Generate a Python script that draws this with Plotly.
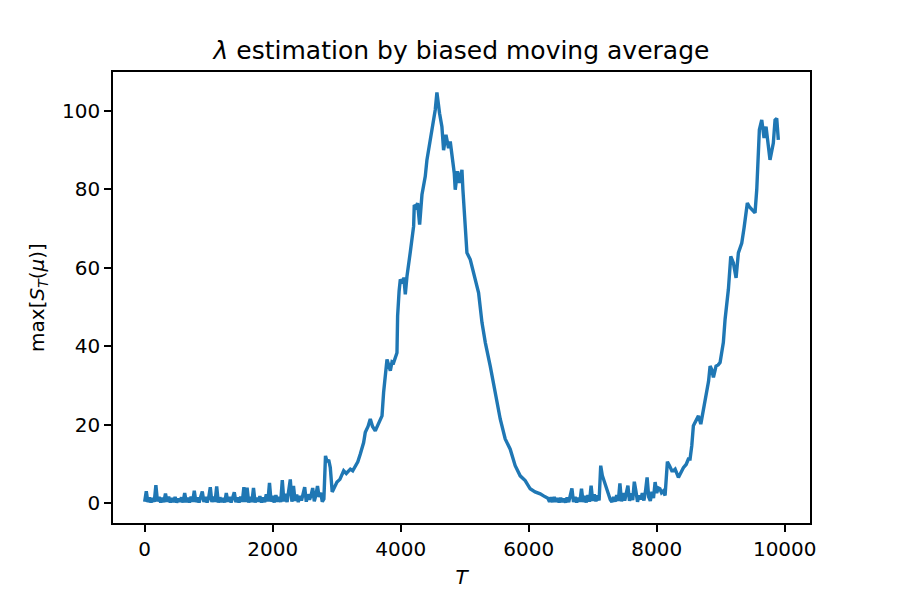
import plotly.graph_objects as go

# ---- data ----
# noisy start (T = 0 .. 2800, every 25)
noise1_T = list(range(0, 2825, 25))
noise1_S = [
    0.3, 3.0, 0.2, 1.4, 0.1, 1.2, 0.3, 4.5,
    0.4, 1.5, 0.1, 1.3, 0.2, 2.4, 0.3, 1.6,
    0.1, 1.2, 0.2, 1.5, 0.1, 1.1, 0.3, 1.4,
    0.1, 2.5, 0.2, 1.3, 0.1, 1.6, 0.3, 3.1,
    0.2, 1.4, 0.1, 1.2, 2.9, 0.2, 1.5, 0.1,
    1.3, 4.0, 0.2, 1.6, 0.3, 4.2, 0.1, 1.4,
    0.2, 1.2, 0.1, 2.5, 0.3, 1.5, 0.1, 1.3,
    2.7, 0.2, 1.4, 0.1, 1.6, 0.3, 4.0, 0.2,
    3.9, 0.1, 1.5, 0.2, 3.8, 0.1, 1.3, 0.3,
    1.7, 0.1, 1.4, 0.2, 2.2, 0.4, 5.1, 0.3,
    1.8, 0.1, 2.0, 0.3, 1.5, 0.2, 5.8, 0.4,
    2.3, 0.2, 3.4, 6.0, 0.3, 4.3, 0.5, 2.1,
    0.2, 1.8, 0.6, 2.4, 4.0, 0.3, 2.2, 0.8,
    1.9, 3.8, 0.4, 2.0, 4.3, 1.5, 2.6, 0.3,
    1.0,
]

# first rise, peak and decline
rise_T = [2825, 2850, 2875, 2900, 2930, 2960, 3005, 3050, 3109, 3150,
          3213, 3250, 3291, 3330, 3369, 3421, 3447, 3490, 3525, 3560,
          3603, 3655, 3708, 3733, 3760, 3786, 3815, 3838, 3865, 3890,
          3942, 3952, 3975, 3994, 4030, 4050, 4072, 4098, 4150, 4202,
          4212, 4240, 4264, 4296, 4332, 4384, 4410, 4462, 4503, 4540,
          4566, 4590, 4607, 4644, 4670, 4707, 4748, 4774, 4800, 4837,
          4852, 4888, 4920, 4957, 4972, 5009, 5035, 5087, 5139, 5217,
          5270, 5322, 5399, 5477, 5555, 5633, 5711, 5789, 5867, 5945,
          6023, 6100, 6180, 6250, 6300]
rise_S = [12.0, 10.5, 11.0, 9.0, 2.8, 4.0, 5.3, 6.0, 8.2, 7.5,
          8.6, 8.2, 9.5, 10.5, 12.5, 15.4, 18.0, 19.5, 21.4, 19.5,
          18.4, 20.5, 22.2, 28.2, 33.0, 36.6, 35.0, 33.7, 36.0, 35.8,
          38.3, 47.7, 54.0, 57.0, 56.0, 57.5, 53.2, 57.8, 64.0, 70.6,
          76.0, 75.5, 76.5, 71.0, 78.6, 83.3, 87.5, 92.6, 96.9, 100.3,
          104.7, 101.0, 99.4, 96.0, 90.0, 93.9, 90.5, 92.2, 88.8, 84.1,
          79.9, 84.6, 81.6, 85.0, 79.9, 70.0, 63.8, 62.1, 58.7, 53.6,
          46.0, 40.9, 34.9, 28.2, 21.4, 16.3, 13.7, 9.5, 6.9, 5.7,
          3.6, 2.8, 2.3, 1.6, 1.2]

# noisy valley (T = 6325 .. 8100, every 25)
noise2_T = list(range(6325, 8125, 25))
noise2_S = [
    0.3, 1.4, 0.2, 1.5, 0.3, 1.2, 0.1, 1.3,
    0.2, 1.1, 0.1, 1.4, 0.2, 1.6, 3.7, 0.2,
    1.5, 0.1, 1.3, 0.3, 3.6, 0.2, 1.8, 0.1,
    2.0, 0.3, 4.4, 0.5, 2.2, 0.4, 1.9, 0.6,
    9.5, 7.0, 5.7, 4.0, 3.0, 1.8, 0.8, 0.2,
    1.5, 0.3, 2.0, 0.5, 5.0, 0.4, 2.5, 0.6,
    2.2, 4.4, 0.5, 2.4, 0.7, 5.4, 3.0, 0.3,
    1.9, 0.9, 2.5, 0.6, 3.0, 6.5, 1.5, 0.5,
    2.8, 1.2, 5.3, 2.5, 3.8, 3.6, 2.6, 3.0,
]

# final rise
final_T = [8131, 8167, 8200, 8236, 8261, 8288, 8339, 8380, 8417, 8460,
           8495, 8521, 8548, 8573, 8600, 8652, 8689, 8730, 8756, 8782,
           8810, 8834, 8860, 8886, 8927, 8960, 8990, 9041, 9068, 9120,
           9157, 9198, 9240, 9276, 9329, 9365, 9416, 9450, 9485, 9536,
           9563, 9585, 9604, 9641, 9677, 9708, 9740, 9770, 9800, 9822,
           9849, 9875, 9900]
final_S = [1.9, 10.5, 9.5, 8.2, 8.2, 8.6, 6.5, 7.8, 9.0, 9.8,
           11.2, 11.2, 14.6, 19.7, 20.5, 22.2, 20.1, 23.9, 26.0, 27.5,
           31.0, 34.9, 34.0, 32.0, 34.9, 35.2, 35.8, 40.9, 46.8, 54.5,
           62.9, 61.2, 57.4, 63.8, 66.3, 70.2, 76.5, 75.5, 74.8, 74.0,
           79.9, 88.0, 95.2, 97.7, 93.1, 96.0, 91.0, 87.5, 90.0, 91.8,
           97.7, 98.1, 92.6]

x_ticks = [0, 2000, 4000, 6000, 8000, 10000]
y_ticks = [0, 20, 40, 60, 80, 100]

T = noise1_T + rise_T + noise2_T + final_T
S = noise1_S + rise_S + noise2_S + final_S

FONT = "DejaVu Sans"

fig = go.Figure(
    go.Scatter(x=T, y=S, mode="lines",
               line=dict(color="#1f77b4", width=3.4),
               hoverinfo="skip")
)

axis_common = dict(
    showline=True, mirror=True, linecolor="black", linewidth=1.6,
    ticks="outside", ticklen=7, tickwidth=1.6, tickcolor="black",
    showgrid=False, zeroline=False,
    tickfont=dict(family=FONT, size=20, color="black"),
)

tmin, tmax = min(T), max(T)
smin, smax = min(S), max(S)
fig.update_xaxes(
    range=[tmin - 0.05 * (tmax - tmin), tmax + 0.05 * (tmax - tmin)],
    tickvals=x_ticks, ticktext=[str(v) for v in x_ticks],
    title=dict(text="<i>T</i>", font=dict(family=FONT, size=20, color="black"),
               standoff=10),
    **axis_common,
)
fig.update_yaxes(
    range=[smin - 0.05 * (smax - smin), smax + 0.05 * (smax - smin)],
    tickvals=y_ticks, ticktext=[str(v) for v in y_ticks],
    title=dict(text="max[<i>S</i><sub><i>T</i></sub>(<i>μ</i>)]",
               font=dict(family=FONT, size=20, color="black"), standoff=12),
    **axis_common,
)

# the page body adds an 8px offset; margins compensate so the plot area
# lands at the reference position
fig.update_layout(
    width=900, height=600,
    margin=dict(l=104.5, r=98, t=64, b=84.5),
    paper_bgcolor="white", plot_bgcolor="white",
    showlegend=False,
    title=dict(text="<i>λ</i> estimation by biased moving average",
               font=dict(family=FONT, size=25, color="black"),
               x=0.5, xanchor="center", xref="paper",
               y=1 - 42 / 600, yanchor="middle", yref="container"),
)

fig.write_html("out.html")
